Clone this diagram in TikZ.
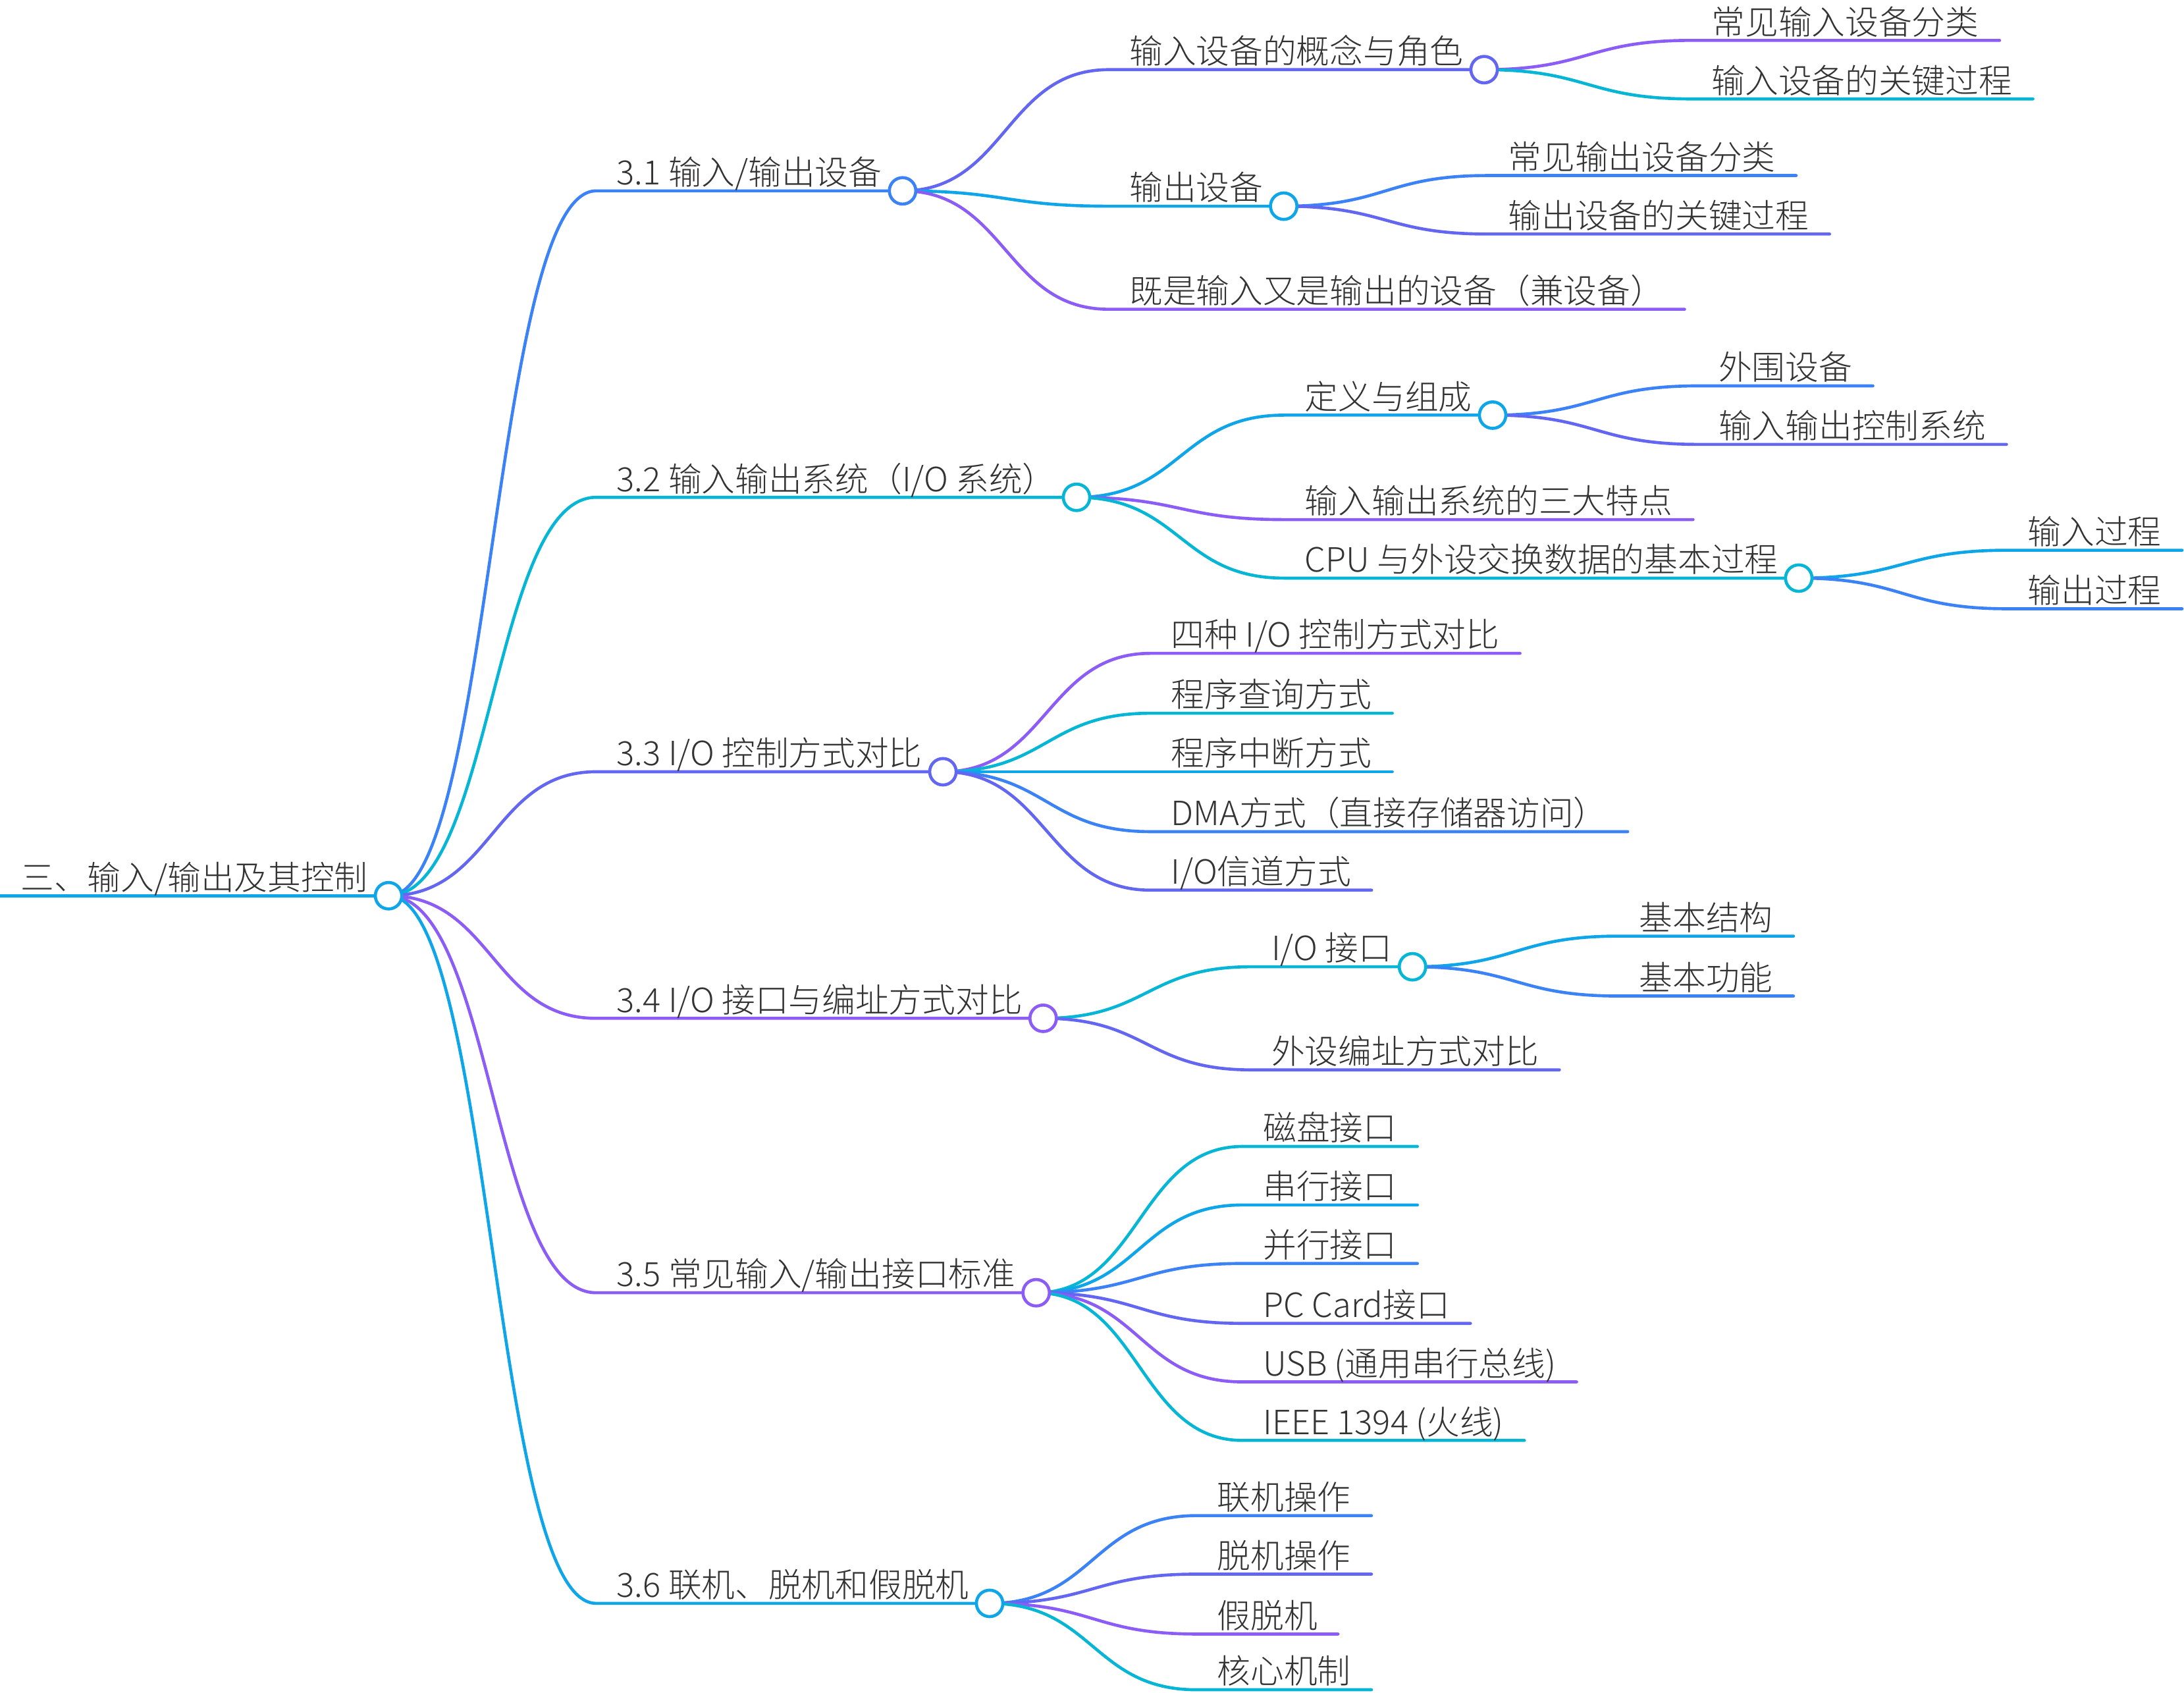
\documentclass[tikz,border=0pt]{standalone}
\usepackage{fontspec}
\setmainfont{Noto Sans CJK SC}[UprightFont={* Light}]
\usetikzlibrary{calc,backgrounds}

\definecolor{himmel}{HTML}{0EA5E9}
\definecolor{blau}{HTML}{3B82F6}
\definecolor{indigo}{HTML}{6366F1}
\definecolor{violett}{HTML}{8B5CF6}
\definecolor{tuerkis}{HTML}{06B6D4}
\definecolor{textgrau}{HTML}{333333}

\begin{document}
\begin{tikzpicture}[x=0.02cm, y=-0.02cm,
    thema/.style={anchor=south west, inner xsep=0.29cm, inner ysep=0.08cm, text depth=0pt,
        font=\fontsize{13.65pt}{16pt}\selectfont, text=textgrau},
    linie/.style={line width=1.25pt, line cap=round},
    knoten/.style={circle, draw, fill=white, line width=1.25pt, inner sep=0pt, minimum size=0.38cm},
    link/.style={to path={let \p1=(\tikztostart), \p2=(\tikztotarget) in
        .. controls ({0.5*(\x1+\x2)},\y1) and ({0.5*(\x1+\x2)},\y2) .. (\tikztotarget)}}]
    \useasboundingbox (0,0) rectangle (1568,1215);

    % Wurzel
    \node[thema] (root) at (0,643) {三、输入/输出及其控制};
    \node[knoten, draw=himmel] (k0) at (root.south east) {};

    % Hauptzweige
    \node[thema] (n1) at (428,137) {3.1 输入/输出设备};
    \node[knoten, draw=blau] (k1) at (n1.south east) {};
    \node[thema] (n2) at (428,357) {3.2 输入输出系统（I/O 系统）};
    \node[knoten, draw=tuerkis] (k2) at (n2.south east) {};
    \node[thema] (n3) at (428,554) {3.3 I/O 控制方式对比};
    \node[knoten, draw=indigo] (k3) at (n3.south east) {};
    \node[thema] (n4) at (428,731) {3.4 I/O 接口与编址方式对比};
    \node[knoten, draw=violett] (k4) at (n4.south east) {};
    \node[thema] (n5) at (428,928) {3.5 常见输入/输出接口标准};
    \node[knoten, draw=violett] (k5) at (n5.south east) {};
    \node[thema] (n6) at (428,1151) {3.6 联机、脱机和假脱机};
    \node[knoten, draw=himmel] (k6) at (n6.south east) {};

    % 3.1
    \node[thema] (n11) at (796,50) {输入设备的概念与角色};
    \node[knoten, draw=indigo] (k11) at (n11.south east) {};
    \node[thema] (n12) at (796,148) {输出设备};
    \node[knoten, draw=himmel] (k12) at (n12.south east) {};
    \node[thema] (n13) at (796,222) {既是输入又是输出的设备（兼设备）};
    \node[thema] (n111) at (1214,29) {常见输入设备分类};
    \node[thema] (n112) at (1214,71) {输入设备的关键过程};
    \node[thema] (n121) at (1068,126) {常见输出设备分类};
    \node[thema] (n122) at (1068,168) {输出设备的关键过程};

    % 3.2
    \node[thema] (n21) at (922,298) {定义与组成};
    \node[knoten, draw=himmel] (k21) at (n21.south east) {};
    \node[thema] (n22) at (922,373) {输入输出系统的三大特点};
    \node[thema] (n23) at (922,415) {CPU 与外设交换数据的基本过程};
    \node[knoten, draw=tuerkis] (k23) at (n23.south east) {};
    \node[thema] (n211) at (1219,277) {外围设备};
    \node[thema] (n212) at (1219,319) {输入输出控制系统};
    \node[thema] (n231) at (1441,395) {输入过程};
    \node[thema] (n232) at (1441,437) {输出过程};

    % 3.3
    \node[thema] (n31) at (826,469) {四种 I/O 控制方式对比};
    \node[thema] (n32) at (826,512) {程序查询方式};
    \node[thema] (n33) at (826,554) {程序中断方式};
    \node[thema] (n34) at (826,597) {DMA方式（直接存储器访问）};
    \node[thema] (n35) at (826,639) {I/O信道方式};

    % 3.4
    \node[thema] (n41) at (898,694) {I/O 接口};
    \node[knoten, draw=tuerkis] (k41) at (n41.south east) {};
    \node[thema] (n42) at (898,768) {外设编址方式对比};
    \node[thema] (n411) at (1162,672) {基本结构};
    \node[thema] (n412) at (1162,715) {基本功能};

    % 3.5
    \node[thema] (n51) at (892,823) {磁盘接口};
    \node[thema] (n52) at (892,865) {串行接口};
    \node[thema] (n53) at (892,907) {并行接口};
    \node[thema] (n54) at (892,950) {PC Card接口};
    \node[thema] (n55) at (892,992) {USB (通用串行总线)};
    \node[thema] (n56) at (892,1034) {IEEE 1394 (火线)};

    % 3.6
    \node[thema] (n61) at (859,1088) {联机操作};
    \node[thema] (n62) at (859,1130) {脱机操作};
    \node[thema] (n63) at (859,1173) {假脱机};
    \node[thema] (n64) at (859,1213) {核心机制};

    % Verbindungen hinter den Kreisen
    \begin{pgfonlayer}{background}
    \draw[linie, himmel] (root.south west) -- (root.south east);
    \draw[linie, blau] (k0.center) to[link] (n1.south west) -- (n1.south east);
    \draw[linie, tuerkis] (k0.center) to[link] (n2.south west) -- (n2.south east);
    \draw[linie, indigo] (k0.center) to[link] (n3.south west) -- (n3.south east);
    \draw[linie, violett] (k0.center) to[link] (n4.south west) -- (n4.south east);
    \draw[linie, violett] (k0.center) to[link] (n5.south west) -- (n5.south east);
    \draw[linie, himmel] (k0.center) to[link] (n6.south west) -- (n6.south east);

    \draw[linie, indigo] (k1.center) to[link] (n11.south west) -- (n11.south east);
    \draw[linie, himmel] (k1.center) to[link] (n12.south west) -- (n12.south east);
    \draw[linie, violett] (k1.center) to[link] (n13.south west) -- (n13.south east);
    \draw[linie, violett] (k11.center) to[link] (n111.south west) -- (n111.south east);
    \draw[linie, tuerkis] (k11.center) to[link] (n112.south west) -- (n112.south east);
    \draw[linie, blau] (k12.center) to[link] (n121.south west) -- (n121.south east);
    \draw[linie, indigo] (k12.center) to[link] (n122.south west) -- (n122.south east);

    \draw[linie, himmel] (k2.center) to[link] (n21.south west) -- (n21.south east);
    \draw[linie, violett] (k2.center) to[link] (n22.south west) -- (n22.south east);
    \draw[linie, tuerkis] (k2.center) to[link] (n23.south west) -- (n23.south east);
    \draw[linie, blau] (k21.center) to[link] (n211.south west) -- (n211.south east);
    \draw[linie, indigo] (k21.center) to[link] (n212.south west) -- (n212.south east);
    \draw[linie, himmel] (k23.center) to[link] (n231.south west) -- (n231.south east);
    \draw[linie, blau] (k23.center) to[link] (n232.south west) -- (n232.south east);

    \draw[linie, violett] (k3.center) to[link] (n31.south west) -- (n31.south east);
    \draw[linie, tuerkis] (k3.center) to[link] (n32.south west) -- (n32.south east);
    \draw[linie, himmel] (k3.center) to[link] (n33.south west) -- (n33.south east);
    \draw[linie, blau] (k3.center) to[link] (n34.south west) -- (n34.south east);
    \draw[linie, indigo] (k3.center) to[link] (n35.south west) -- (n35.south east);

    \draw[linie, tuerkis] (k4.center) to[link] (n41.south west) -- (n41.south east);
    \draw[linie, indigo] (k4.center) to[link] (n42.south west) -- (n42.south east);
    \draw[linie, himmel] (k41.center) to[link] (n411.south west) -- (n411.south east);
    \draw[linie, blau] (k41.center) to[link] (n412.south west) -- (n412.south east);

    \draw[linie, tuerkis] (k5.center) to[link] (n51.south west) -- (n51.south east);
    \draw[linie, himmel] (k5.center) to[link] (n52.south west) -- (n52.south east);
    \draw[linie, blau] (k5.center) to[link] (n53.south west) -- (n53.south east);
    \draw[linie, indigo] (k5.center) to[link] (n54.south west) -- (n54.south east);
    \draw[linie, violett] (k5.center) to[link] (n55.south west) -- (n55.south east);
    \draw[linie, tuerkis] (k5.center) to[link] (n56.south west) -- (n56.south east);

    \draw[linie, blau] (k6.center) to[link] (n61.south west) -- (n61.south east);
    \draw[linie, indigo] (k6.center) to[link] (n62.south west) -- (n62.south east);
    \draw[linie, violett] (k6.center) to[link] (n63.south west) -- (n63.south east);
    \draw[linie, tuerkis] (k6.center) to[link] (n64.south west) -- (n64.south east);
    \end{pgfonlayer}
\end{tikzpicture}
\end{document}
